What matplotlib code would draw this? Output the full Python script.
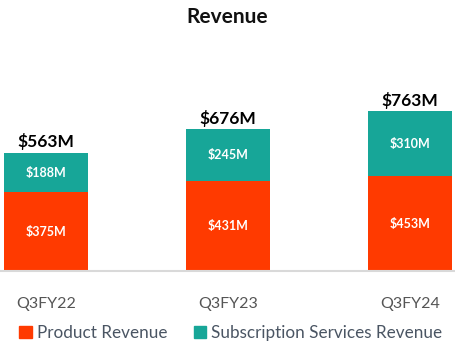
import numpy as np
import matplotlib.pyplot as plt
from matplotlib.patches import Patch

# Data
quarters = ['Q3FY22', 'Q3FY23', 'Q3FY24']
product = [375, 431, 453]
subscription = [188, 245, 310]
totals = [563, 676, 763]

PRODUCT_COLOR = '#FF3A00'
SUB_COLOR = '#17A698'

plt.rcParams['font.family'] = ['Lato', 'DejaVu Sans']

fig = plt.figure(figsize=(4.55, 3.57), dpi=100)
W, H = 455, 357
# axes placed in pixel terms: baseline at y=271 from top
ax = fig.add_axes([0, 86 / H, 1, 231 / H])

x = np.arange(len(quarters))
ax.bar(x, product, width=0.46, color=PRODUCT_COLOR)
ax.bar(x, subscription, width=0.46, bottom=product, color=SUB_COLOR)

for i in range(len(x)):
    ax.text(x[i], product[i] / 2, '$%dM' % product[i], ha='center', va='center',
            color='white', fontsize=9, fontweight='bold')
    ax.text(x[i], product[i] + subscription[i] / 2, '$%dM' % subscription[i],
            ha='center', va='center', color='white', fontsize=9, fontweight='bold')
    ax.text(x[i], totals[i] + 12, '$%dM' % totals[i], ha='center', va='bottom',
            color='black', fontsize=12.5, fontweight='bold')

ax.set_xlim(-46 / 182, (455 - 46) / 182)
ax.set_ylim(0, 231 / 0.2096)
ax.set_xticks(x)
ax.set_xticklabels(quarters, fontsize=11.5, color='#555555')
ax.tick_params(axis='x', length=0, pad=19)
ax.set_yticks([])
for s in ['top', 'left', 'right']:
    ax.spines[s].set_visible(False)
ax.spines['bottom'].set_color('#D9D9D9')
ax.spines['bottom'].set_linewidth(1.5)

fig.text(0.5, 1 - 17 / H, 'Revenue', ha='center', va='center', fontsize=15,
         fontweight='bold', color='#111111')

handles = [Patch(color=PRODUCT_COLOR), Patch(color=SUB_COLOR)]
fig.legend(handles, ['Product Revenue', 'Subscription Services Revenue'],
           loc='center', bbox_to_anchor=(231 / W, 1 - 333 / H), ncol=2, frameon=False,
           handlelength=0.75, handleheight=0.75, handletextpad=0.3,
           columnspacing=1.5, fontsize=12.3, labelcolor='#4A5563')

fig.savefig('out.png', dpi=100)
